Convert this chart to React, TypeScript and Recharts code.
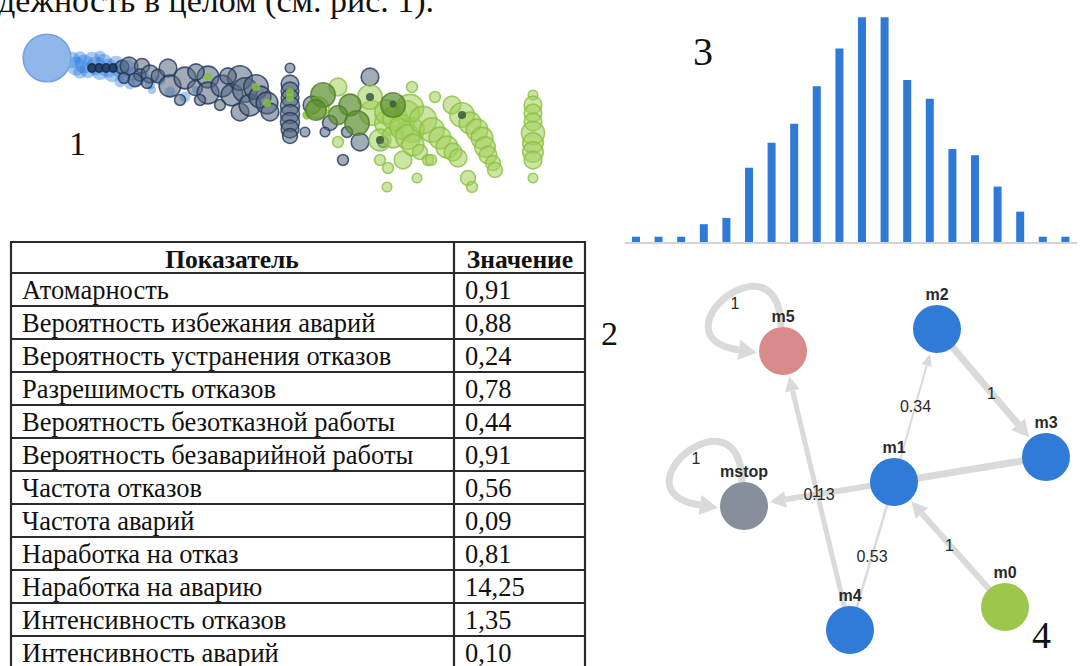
import React from 'react';
import { ScatterChart, Scatter, XAxis, YAxis, ZAxis, BarChart, Bar, ReferenceLine } from 'recharts';

// ---------- Text ----------
const headerText = 'дежность в целом (см. рис. 1).';
const figureLabels = ['1', '2', '3', '4'];

// ---------- Figure 1: bubble cloud, [x, y, radius] ----------
const bigBubble = [[47, 58, 17.5]];
const blueBubbles = [
  [72, 60, 6], [76, 66, 7], [80, 58, 5], [84, 64, 7], [88, 70, 6], [92, 60, 6], [96, 66, 7], [100, 72, 6],
  [104, 62, 6], [108, 68, 7], [112, 74, 6], [116, 64, 6], [120, 70, 6], [124, 76, 5], [128, 66, 5], [132, 74, 5],
  [138, 80, 5], [144, 76, 4], [150, 84, 4], [152, 90, 3], [160, 80, 4], [170, 92, 4], [185, 97, 4], [196, 90, 3],
  [120, 82, 4], [130, 84, 4], [80, 72, 5], [100, 56, 4],
];
const navyBubbles = [
  [122, 67, 5], [129, 66, 6.5], [142, 66, 5.5], [140, 75, 4.5], [150, 74, 6.5], [158, 76, 5], [124, 78, 4], [135, 80, 5],
  [147, 83, 4], [168, 68, 6.5], [170, 86, 8], [185, 78, 8], [195, 88, 5.5], [208, 77, 8], [208, 93, 8], [220, 105, 4],
  [222, 86, 8], [232, 95, 8], [240, 78, 9], [245, 90, 9], [240, 112, 6.5], [250, 105, 8], [256, 87, 9], [260, 97, 8],
  [267, 103, 8], [270, 112, 6.5], [290, 68, 3.5], [290, 84, 6.5], [290, 91, 6.5], [290, 98, 6.5], [290, 106, 7],
  [290, 114, 7], [290, 122, 7], [290, 129, 6.5], [290, 136, 5.5], [305, 132, 3.5], [312, 105, 6.5], [330, 123, 5.5],
  [325, 132, 3.5], [343, 160, 4], [360, 142, 6.5], [370, 77, 6.5], [383, 142, 4], [347, 132, 4], [180, 100, 4],
  [200, 100, 4], [196, 72, 6], [228, 76, 6],
];
const navyChain = [[92, 68, 3], [99, 68, 3], [106, 68, 3], [113, 68, 3]];
const greenInNavy = [[208, 77, 3], [256, 87, 3], [267, 103, 3], [290, 92, 3], [290, 98, 3], [307, 115, 3.5]];
const greenBubbles = [
  [338, 87, 6.5], [318, 108, 8], [372, 113, 9], [387, 123, 9], [407, 113, 9], [412, 130, 9], [380, 140, 8],
  [393, 137, 8], [412, 87, 4], [338, 142, 4], [380, 160, 4], [403, 160, 6.5], [388, 168, 4], [387, 187, 3.5],
  [417, 178, 3.5], [370, 97, 9],
  [387, 112, 9], [395, 118, 9], [402, 127, 9], [408, 137, 9], [413, 145, 8], [420, 152, 5.5], [428, 160, 4],
  [410, 108, 10], [423, 120, 10], [432, 130, 9], [440, 138, 8], [447, 147, 8], [453, 152, 6.5], [458, 158, 6.5], [435, 97, 4],
  [452, 105, 6.5], [462, 115, 9], [470, 123, 8], [477, 130, 8], [482, 138, 8], [485, 147, 7.5], [488, 155, 6.5],
  [493, 163, 5.5], [495, 170, 5.5], [468, 178, 5.5], [472, 187, 4], [431, 160, 4],
  [533, 95, 3.5], [533, 105, 6.5], [533, 113, 6.5], [533, 122, 6.5], [533, 133, 8.5], [533, 143, 7.5], [533, 152, 7.5],
  [533, 160, 6.5], [533, 178, 3.5],
];
const darkGreenBubbles = [[323, 95, 9], [350, 105, 8], [338, 115, 7], [357, 123, 9], [393, 105, 9], [316, 110, 7.5]];
const darkCenters = [[370, 97, 3], [380, 140, 3], [462, 115, 3], [393, 104, 2.5]];

// ---------- Figure 3: histogram ----------
const histBins = ['1', '2', '3', '4', '5', '6', '7', '8', '9', '10', '11', '12', '13', '14', '15', '16', '17', '18', '19', '20'];
const histCounts = [1, 1, 1, 3, 4, 12, 16, 19, 25, 31, 36, 36, 26, 23, 15, 14, 9, 5, 1, 1];

// ---------- Table ----------
const tableHeaders = ['Показатель', 'Значение'];
const indicatorNames = [
  'Атомарность', 'Вероятность избежания аварий', 'Вероятность устранения отказов', 'Разрешимость отказов',
  'Вероятность безотказной работы', 'Вероятность безаварийной работы', 'Частота отказов', 'Частота аварий',
  'Наработка на отказ', 'Наработка на аварию', 'Интенсивность отказов', 'Интенсивность аварий',
];
const indicatorValues = ['0,91', '0,88', '0,24', '0,78', '0,44', '0,91', '0,56', '0,09', '0,81', '14,25', '1,35', '0,10'];

// ---------- Figure 2/4: state graph ----------
const nodeIds = ['m5', 'm2', 'm3', 'm1', 'mstop', 'm4', 'm0'];
const nodeX = [183, 337, 446, 294, 144, 250, 405];
const nodeY = [91, 69, 197, 222, 246, 370, 347];
const nodeKinds = ['fail', 'state', 'state', 'state', 'stop', 'state', 'start'];
const edgeFrom = ['m2', 'm1', 'm3', 'm1', 'm4', 'm1', 'm0', 'm5', 'mstop'];
const edgeTo = ['m3', 'm2', 'm1', 'mstop', 'm5', 'm4', 'm1', 'm5', 'mstop'];
const edgeLabels = ['1', '0.34', '', '0.13', '1', '0.53', '1', '1', '1'];

// ---------- styles ----------
const SERIF = "'Liberation Serif', 'Times New Roman', serif";
const SANS = "'Liberation Sans', Arial, sans-serif";
const edgeWidths = [7, 2, 7, 6, 5, 2.5, 6, 7, 7];
const edgeArrows = [true, true, false, true, true, false, true, true, true];
const kindColors: Record<string, string> = { fail: '#d98b8b', state: '#2f7bd7', stop: '#868f9b', start: '#9cc74c' };
const NODE_R = 24;
const EDGE_COLOR = '#dadada';
const BUBBLE_AREA_SCALE = 1.85;

const toPts = (arr: number[][]) => arr.map(([x, y, r]) => ({ x, y, z: r * r }));

const bubbleShape = (fill: string, fillOpacity: number, stroke: string, strokeOpacity: number) => (p: any) => {
  const r = p.width ? p.width / 2 : Math.sqrt((p.size || 0) / Math.PI);
  return (
    <circle cx={p.cx} cy={p.cy} r={r} fill={fill} fillOpacity={fillOpacity}
      stroke={stroke} strokeOpacity={strokeOpacity} strokeWidth={stroke === 'none' ? 0 : 1.6} />
  );
};

const histData = histBins.map((b, i) => ({ bin: b, count: histCounts[i] }));

const nodeData = nodeIds.map((id, i) => ({ x: nodeX[i], y: nodeY[i], id, fill: kindColors[nodeKinds[i]] }));
const nodeIndex = (id: string) => nodeIds.indexOf(id);
const edgeData = edgeFrom.map((f, i) => {
  const a = nodeIndex(f), b = nodeIndex(edgeTo[i]);
  return { x1: nodeX[a], y1: nodeY[a], x2: nodeX[b], y2: nodeY[b], label: edgeLabels[i], loop: a === b };
});
const edgeLabelData = edgeData
  .filter((e) => e.label !== '')
  .map((e) => ({ x: (e.x1 + e.x2) / 2, y: (e.y1 + e.y2) / 2, text: e.label, loop: e.loop }));

const makeEdgeShape = (width: number, arrow: boolean) => (p: any) => {
  const { x1, y1, x2, y2 } = p;
  if (Math.abs(x1 - x2) < 0.01 && Math.abs(y1 - y2) < 0.01) {
    const cx = x1, cy = y1;
    const P0 = [cx - 2, cy - 24], P1 = [cx - 4, cy - 122], P2 = [cx - 132, cy - 14], P3 = [cx - 44, cy - 1];
    const dx = P3[0] - P2[0], dy = P3[1] - P2[1];
    const len = Math.hypot(dx, dy);
    const ux = dx / len, uy = dy / len;
    const L = 18, H = 10;
    const tip = [P3[0] + ux * L, P3[1] + uy * L];
    return (
      <g>
        <path d={`M${P0[0]},${P0[1]} C${P1[0]},${P1[1]} ${P2[0]},${P2[1]} ${P3[0]},${P3[1]}`}
          fill="none" stroke={EDGE_COLOR} strokeWidth={width} />
        <polygon points={`${tip[0]},${tip[1]} ${P3[0] - uy * H},${P3[1] + ux * H} ${P3[0] + uy * H},${P3[1] - ux * H}`}
          fill={EDGE_COLOR} />
      </g>
    );
  }
  const dx = x2 - x1, dy = y2 - y1;
  const len = Math.hypot(dx, dy);
  const ux = dx / len, uy = dy / len;
  const sx = x1 + ux * (NODE_R - 2), sy = y1 + uy * (NODE_R - 2);
  if (!arrow) {
    const ex = x2 - ux * (NODE_R - 2), ey = y2 - uy * (NODE_R - 2);
    return <line x1={sx} y1={sy} x2={ex} y2={ey} stroke={EDGE_COLOR} strokeWidth={width} />;
  }
  const tx = x2 - ux * (NODE_R + 2), ty = y2 - uy * (NODE_R + 2);
  const L = 10 + width, H = 4 + width * 0.7;
  const bx = tx - ux * L, by = ty - uy * L;
  return (
    <g>
      <line x1={sx} y1={sy} x2={bx} y2={by} stroke={EDGE_COLOR} strokeWidth={width} />
      <polygon points={`${tx},${ty} ${bx - uy * H},${by + ux * H} ${bx + uy * H},${by - ux * H}`} fill={EDGE_COLOR} />
    </g>
  );
};

const NodeShape = (p: any) => (
  <g>
    <circle cx={p.cx} cy={p.cy} r={NODE_R} fill={p.payload.fill} />
    <text x={p.cx} y={p.cy - 29} textAnchor="middle" fontFamily={SANS} fontSize={16} fontWeight={600} fill="#2a2a2a">
      {p.payload.id}
    </text>
  </g>
);

const EdgeLabelShape = (p: any) => {
  const x = p.payload.loop ? p.cx - 48 : p.cx;
  const y = p.payload.loop ? p.cy - 48 : p.cy;
  return (
    <text x={x} y={y + 6} textAnchor="middle" fontFamily={SANS} fontSize={16} fontWeight={500} fill="#2a2a2a">
      {p.payload.text}
    </text>
  );
};

const ROW0 = 273;
const ROW_H = 33;
const TABLE_FONT = 26.5;

export default function App() {
  const tableBottom = ROW0 + ROW_H * indicatorNames.length;
  return (
    <div style={{ position: 'absolute', left: 0, top: 0, width: 1083, height: 666, overflow: 'hidden', background: '#fff' }}>
      <svg width={1083} height={666} style={{ position: 'absolute', left: 0, top: 0 }}>
        <text x={-2} y={12} fontFamily={SERIF} fontSize={34} fill="#111">{headerText}</text>
        <text x={69} y={155} fontFamily={SERIF} fontSize={34} fill="#111">{figureLabels[0]}</text>
        <text x={601} y={345} fontFamily={SERIF} fontSize={34} fill="#111">{figureLabels[1]}</text>
        <text x={693} y={65} fontFamily={SERIF} fontSize={40} fill="#111">{figureLabels[2]}</text>
        <text x={1032} y={648} fontFamily={SERIF} fontSize={38} fill="#111">{figureLabels[3]}</text>
        {/* table grid */}
        <g stroke="#2a2a2a" strokeWidth={2.2}>
          <line x1={11} y1={242} x2={585} y2={242} />
          <line x1={11} y1={ROW0} x2={585} y2={ROW0} />
          {indicatorNames.map((_, i) => (
            <line key={i} x1={11} y1={ROW0 + ROW_H * (i + 1)} x2={585} y2={ROW0 + ROW_H * (i + 1)} />
          ))}
          <line x1={11} y1={241} x2={11} y2={tableBottom} />
          <line x1={454} y1={241} x2={454} y2={tableBottom} />
          <line x1={585} y1={241} x2={585} y2={tableBottom} />
        </g>
        <text x={232} y={268} textAnchor="middle" fontFamily={SERIF} fontWeight="bold" fontSize={25.5} fill="#111">{tableHeaders[0]}</text>
        <text x={520} y={268} textAnchor="middle" fontFamily={SERIF} fontWeight="bold" fontSize={25.5} fill="#111">{tableHeaders[1]}</text>
        {indicatorNames.map((n, i) => (
          <text key={n} x={22} y={ROW0 + ROW_H * i + 26} fontFamily={SERIF} fontSize={TABLE_FONT} fill="#111">{n}</text>
        ))}
        {indicatorValues.map((v, i) => (
          <text key={i} x={465} y={ROW0 + ROW_H * i + 26} fontFamily={SERIF} fontSize={TABLE_FONT} fill="#111">{v}</text>
        ))}
      </svg>

      {/* Figure 1 */}
      <div style={{ position: 'absolute', left: 0, top: 0 }}>
        <ScatterChart width={560} height={210} margin={{ top: 0, right: 0, bottom: 0, left: 0 }}>
          <XAxis type="number" dataKey="x" domain={[0, 560]} hide />
          <YAxis type="number" dataKey="y" domain={[0, 210]} reversed hide />
          <ZAxis type="number" dataKey="z" domain={[0, 625]} range={[0, 625 * Math.PI * BUBBLE_AREA_SCALE]} />
          <Scatter data={toPts(blueBubbles)} isAnimationActive={false} shape={bubbleShape('#2f7ee0', 0.42, 'none', 0)} />
          <Scatter data={toPts(bigBubble)} isAnimationActive={false} shape={bubbleShape('#8fb7ea', 1, '#74a3e2', 1)} />
          <Scatter data={toPts(navyBubbles)} isAnimationActive={false} shape={bubbleShape('#56667e', 0.55, '#22385a', 0.8)} />
          <Scatter data={toPts(navyChain)} isAnimationActive={false} shape={bubbleShape('#1f3658', 0.85, '#1a2e4c', 0.9)} />
          <Scatter data={toPts(greenInNavy)} isAnimationActive={false} shape={bubbleShape('#86c13e', 0.85, 'none', 0)} />
          <Scatter data={toPts(greenBubbles)} isAnimationActive={false} shape={bubbleShape('#a3cf5b', 0.55, '#8ac040', 0.8)} />
          <Scatter data={toPts(darkGreenBubbles)} isAnimationActive={false} shape={bubbleShape('#5d8f31', 0.7, '#4f7f28', 0.8)} />
          <Scatter data={toPts(darkCenters)} isAnimationActive={false} shape={bubbleShape('#3b5a38', 0.85, 'none', 0)} />
        </ScatterChart>
      </div>

      {/* Figure 3 */}
      <div style={{ position: 'absolute', left: 625, top: 0 }}>
        <BarChart width={452} height={245} data={histData} margin={{ top: 0, right: 0, bottom: 0, left: 0 }}>
          <XAxis dataKey="bin" height={2} tick={false} tickLine={false} axisLine={{ stroke: '#d4d4d4', strokeWidth: 2 }} />
          <YAxis domain={[0, 38.75]} hide />
          <Bar dataKey="count" fill="#2f7ad6" barSize={8} isAnimationActive={false} />
        </BarChart>
      </div>

      {/* Figure 2/4 */}
      <div style={{ position: 'absolute', left: 600, top: 260 }}>
        <ScatterChart width={483} height={406} margin={{ top: 0, right: 0, bottom: 0, left: 0 }}>
          <XAxis type="number" dataKey="x" domain={[0, 483]} hide />
          <YAxis type="number" dataKey="y" domain={[0, 406]} reversed hide />
          {edgeData.map((e, i) => (
            <ReferenceLine key={i} segment={[{ x: e.x1, y: e.y1 }, { x: e.x2, y: e.y2 }]} ifOverflow="visible"
              shape={makeEdgeShape(edgeWidths[i], edgeArrows[i])} />
          ))}
          <Scatter data={nodeData} isAnimationActive={false} shape={NodeShape} />
          <Scatter data={edgeLabelData} isAnimationActive={false} shape={EdgeLabelShape} />
        </ScatterChart>
      </div>
    </div>
  );
}
